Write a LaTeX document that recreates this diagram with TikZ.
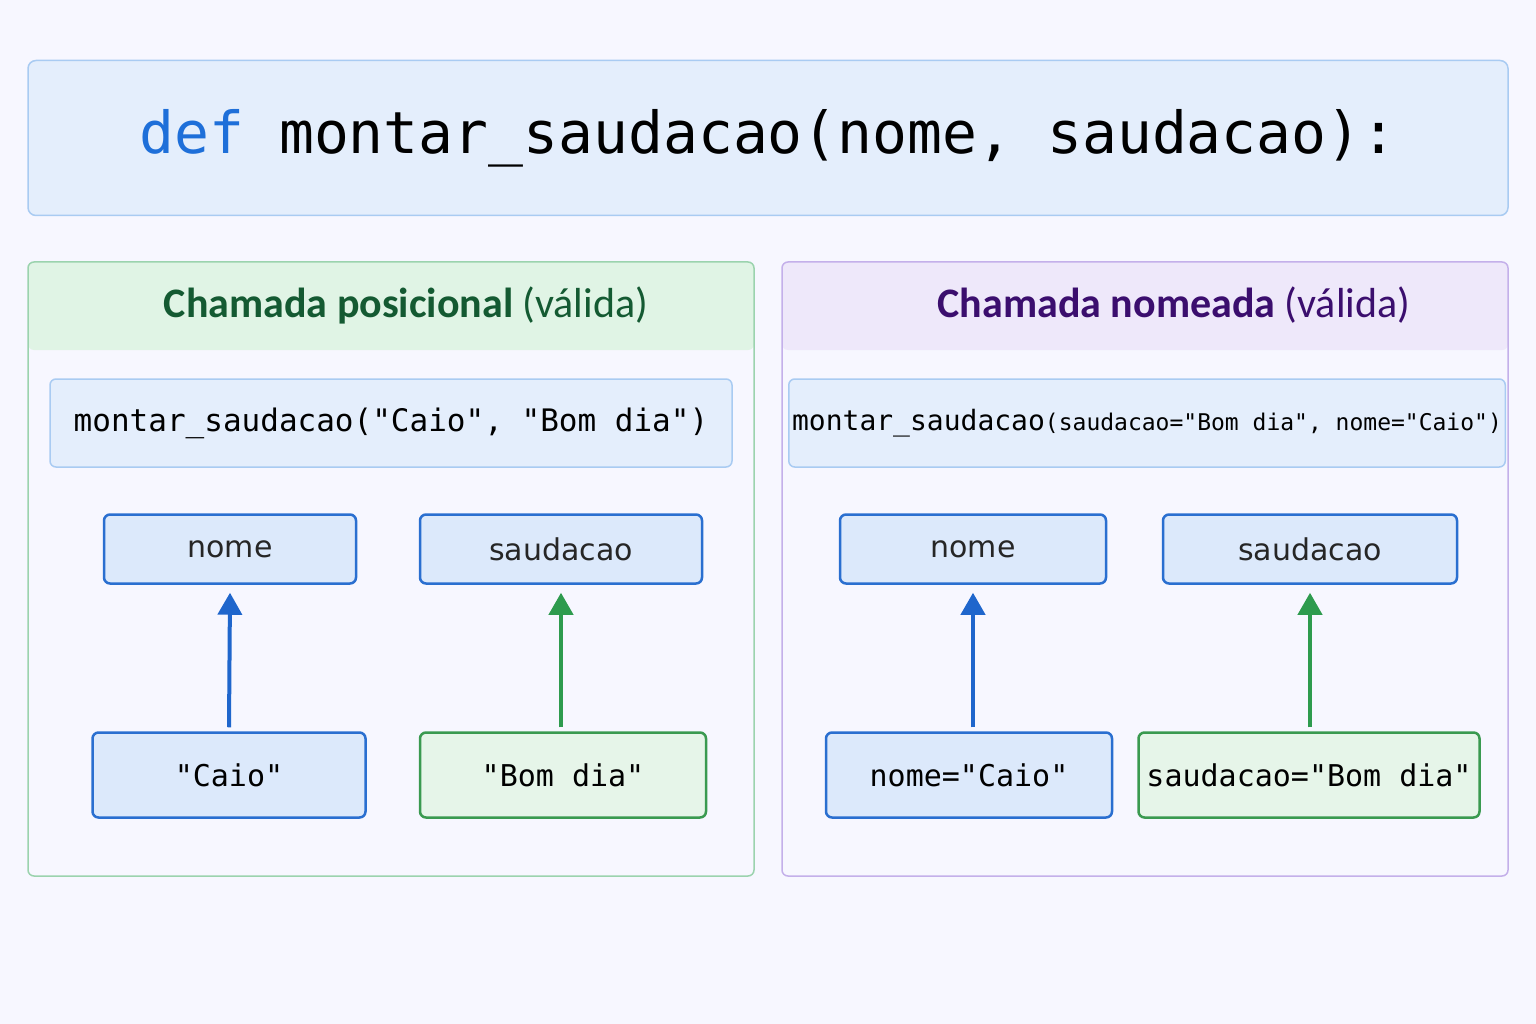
\documentclass[tikz,border=0pt]{standalone}
\usepackage{fontspec}
\setmainfont{DejaVu Sans}
\setmonofont{DejaVu Sans Mono}
\newfontfamily\headfont{Carlito}
\usetikzlibrary{arrows.meta}
\definecolor{codeblue}{HTML}{1E6FD9}
\definecolor{boxfill}{HTML}{E4EEFC}
\definecolor{boxline}{HTML}{A9CBF2}
\definecolor{parfill}{HTML}{DCE9FB}
\definecolor{parline}{HTML}{2A6FD0}
\definecolor{grnfill}{HTML}{E6F5E9}
\definecolor{grnline}{HTML}{3A9A50}
\definecolor{grnhead}{HTML}{E0F4E5}
\definecolor{grnedge}{HTML}{9BD3AE}
\definecolor{grntext}{HTML}{145A32}
\definecolor{purhead}{HTML}{EEE8FA}
\definecolor{puredge}{HTML}{C4B0EA}
\definecolor{purtext}{HTML}{3B0E6E}
\definecolor{arrblue}{HTML}{1F66CC}
\definecolor{arrgreen}{HTML}{2E9B4E}
\tikzset{
  param/.style={draw=parline, fill=parfill, line width=2.5pt, rounded corners=6pt,
    minimum height=69pt, font=\fontsize{30}{36}\selectfont, text=black!85},
  valblue/.style={draw=parline, fill=parfill, line width=2.5pt, rounded corners=6pt,
    minimum height=85pt, font=\ttfamily\fontsize{30}{36}\selectfont},
  valgreen/.style={valblue, draw=grnline, fill=grnfill},
  call/.style={draw=boxline, fill=boxfill, line width=1.5pt, rounded corners=6pt,
    minimum height=88pt, font=\ttfamily},
  link/.style={line width=4pt, -{Triangle[length=22pt,width=24pt]}}
}
\begin{document}
\begin{tikzpicture}[x=1pt,y=-1pt]
\useasboundingbox[fill=white!97!blue] (0,0) rectangle (1536,1024);
% definition
\node[draw=boxline, fill=boxfill, line width=1.5pt, rounded corners=8pt,
  minimum width=1480pt, minimum height=155pt,
  font=\ttfamily\fontsize{58}{66}\selectfont] (def) at (768,138)
  {\textcolor{codeblue}{def} montar\_saudacao(nome, saudacao):};
% left panel
\fill[grnhead, rounded corners=6pt] (28,262) rectangle (754,350);
\draw[grnedge, line width=1.5pt, rounded corners=6pt] (28,262) rectangle (754,876);
\node[text=grntext, font=\headfont\fontsize{42}{48}\selectfont] (lhead) at (406,305)
  {\textbf{Chamada posicional} (válida)};
\node[call, minimum width=682pt, font=\ttfamily\fontsize{31}{36}\selectfont] (lcall) at (391,423)
  {montar\_saudacao("Caio", "Bom dia")};
\node[param, minimum width=252pt] (lnome) at (230,549) {nome};
\node[param, minimum width=282pt] (lsaud) at (561,549) {saudacao};
\node[valblue, minimum width=273pt] (lcaio) at (229,775) {"Caio"};
\node[valgreen, minimum width=286pt] (lbom) at (563,775) {"Bom dia"};
\draw[link, arrblue] (lcaio.north) ++(0,-4) -- ([yshift=-8pt]lnome.south);
\draw[link, arrgreen] (lbom.north -| lsaud.south) ++(0,-4) -- ([yshift=-8pt]lsaud.south);
% right panel
\fill[purhead, rounded corners=6pt] (782,262) rectangle (1508,350);
\draw[puredge, line width=1.5pt, rounded corners=6pt] (782,262) rectangle (1508,876);
\node[text=purtext, font=\headfont\fontsize{42}{48}\selectfont] (rhead) at (1174,305)
  {\textbf{Chamada nomeada} (válida)};
\node[call, minimum width=686pt] (rcall) at (1147,423)
  {\fontsize{28}{32}\selectfont montar\_saudacao\fontsize{23}{28}\selectfont(saudacao="Bom dia", nome="Caio")};
\node[param, minimum width=266pt] (rnome) at (973,549) {nome};
\node[param, minimum width=294pt] (rsaud) at (1310,549) {saudacao};
\node[valblue, minimum width=286pt] (rcaio) at (969,775) {nome="Caio"};
\node[valgreen, minimum width=341pt] (rbom) at (1309,775) {saudacao="Bom dia"};
\draw[link, arrblue] (rnome.south |- rcaio.north) ++(0,-4) -- ([yshift=-8pt]rnome.south);
\draw[link, arrgreen] (rsaud.south |- rbom.north) ++(0,-4) -- ([yshift=-8pt]rsaud.south);
\end{tikzpicture}
\end{document}
